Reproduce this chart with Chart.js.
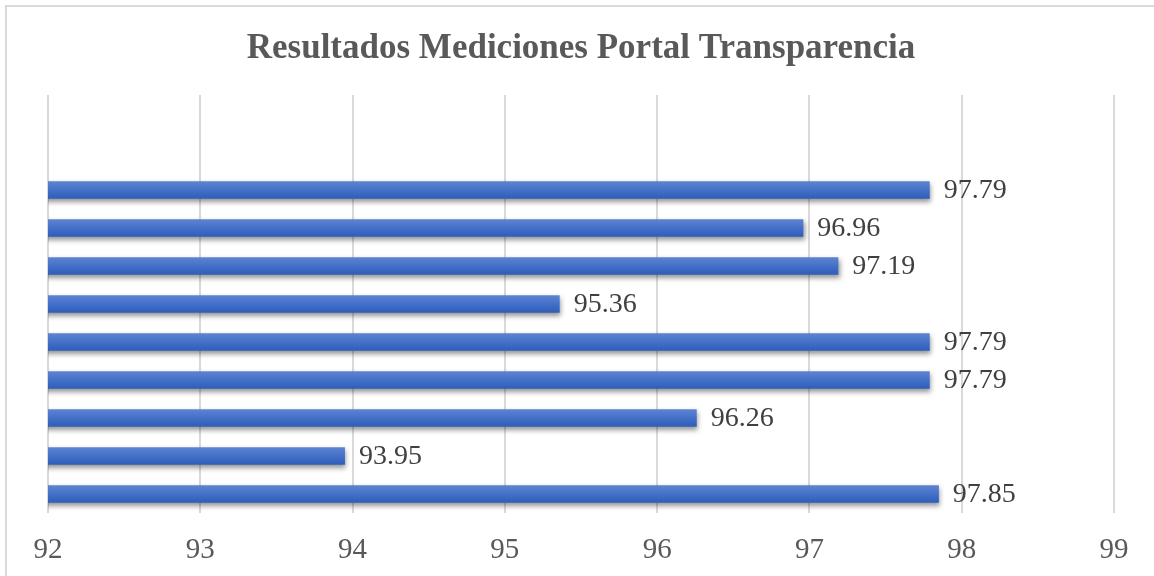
<!DOCTYPE html>
<html>
<head>
<meta charset="utf-8">
<script src="https://cdn.jsdelivr.net/npm/chart.js@4"></script>
<style>
  html, body { margin: 0; padding: 0; background: #ffffff; }
  #wrap { position: relative; width: 1154px; height: 576px; overflow: hidden; }
  #frame { position: absolute; left: 5px; top: 5px; right: -10px; bottom: -10px;
           border-left: 2px solid #d9d9d9; border-top: 2px solid #d9d9d9; pointer-events: none; }
  canvas { position: absolute; left: 0; top: 0; }
</style>
</head>
<body>
<div id="wrap">
  <canvas id="c" width="1154" height="576"></canvas>
  <div id="frame"></div>
</div>
<script>
// Categories (top to bottom); first two rows are empty in the reference
const categories = ['', ' ', 'M1', 'M2', 'M3', 'M4', 'M5', 'M6', 'M7', 'M8', 'M9'];
const values = [null, null, 97.79, 96.96, 97.19, 95.36, 97.79, 97.79, 96.26, 93.95, 97.85];
const tickValues = [92, 93, 94, 95, 96, 97, 98, 99];
const titleText = 'Resultados Mediciones Portal Transparencia';

const serif = '"Liberation Serif", "Times New Roman", serif';

const shadowPlugin = {
  id: 'barShadow',
  beforeDatasetsDraw(chart) {
    const ctx = chart.ctx;
    ctx.save();
    ctx.shadowColor = 'rgba(0,0,0,0.42)';
    ctx.shadowBlur = 5;
    ctx.shadowOffsetX = 1.5;
    ctx.shadowOffsetY = 3;
  },
  afterDatasetsDraw(chart) {
    chart.ctx.restore();
  }
};

const labelPlugin = {
  id: 'valueLabels',
  afterDatasetsDraw(chart) {
    const ctx = chart.ctx;
    const meta = chart.getDatasetMeta(0);
    ctx.save();
    ctx.font = '28px ' + serif;
    ctx.fillStyle = '#404040';
    ctx.textAlign = 'left';
    ctx.textBaseline = 'middle';
    meta.data.forEach((el, i) => {
      const v = values[i];
      if (v === null || v === undefined) return;
      ctx.fillText(v.toFixed(2), el.x + 14, el.y + 1);
    });
    ctx.restore();
  }
};

function barFill(context) {
  const chart = context.chart;
  const ys = chart.scales && chart.scales.y;
  if (!ys || !chart.chartArea || context.dataIndex === undefined) return '#4472C4';
  const c = ys.getPixelForValue(context.dataIndex);
  const h = 9;
  const g = chart.ctx.createLinearGradient(0, c - h, 0, c + h);
  g.addColorStop(0, '#5f85d3');
  g.addColorStop(0.5, '#4370c8');
  g.addColorStop(1, '#2d5cba');
  return g;
}

new Chart(document.getElementById('c'), {
  type: 'bar',
  data: {
    labels: categories,
    datasets: [{
      data: values,
      backgroundColor: barFill,
      borderWidth: 0,
      categoryPercentage: 1.0,
      barPercentage: 0.46
    }]
  },
  options: {
    indexAxis: 'y',
    responsive: false,
    animation: false,
    devicePixelRatio: 1,
    layout: { padding: { left: 48, right: 40, top: 6, bottom: 0 } },
    plugins: {
      legend: { display: false },
      tooltip: { enabled: false },
      title: {
        display: true,
        text: titleText,
        color: '#595959',
        font: { family: serif, size: 35, weight: 'bold', lineHeight: 1.2 },
        padding: { top: 22, bottom: 25 }
      }
    },
    scales: {
      x: {
        type: 'linear',
        min: 92,
        max: 99,
        afterBuildTicks(scale) { scale.ticks = tickValues.map(v => ({ value: v })); },
        afterFit(scale) { scale.height = 63; },
        grid: { color: '#d9d9d9', lineWidth: 2, drawTicks: false },
        border: { display: false },
        ticks: {
          color: '#595959',
          font: { family: serif, size: 29 },
          padding: 20,
          maxRotation: 0,
          callback: (v) => String(v)
        }
      },
      y: {
        display: false,
        grid: { display: false }
      }
    }
  },
  plugins: [shadowPlugin, labelPlugin]
});
</script>
</body>
</html>
